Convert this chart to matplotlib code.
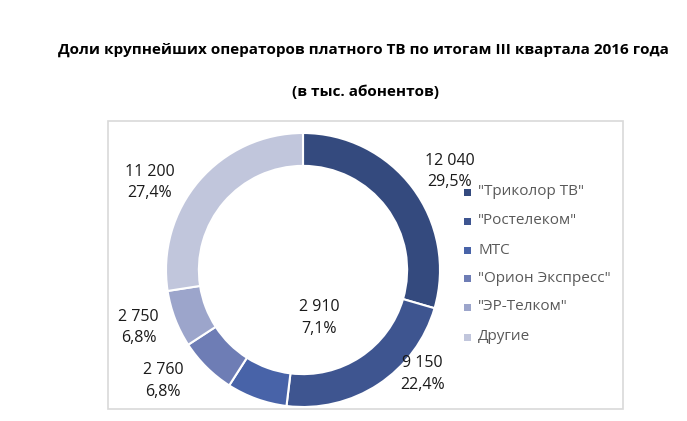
import matplotlib
matplotlib.use("Agg")
import matplotlib.pyplot as plt
from matplotlib.patches import Rectangle

plt.rcParams['font.family'] = ['Open Sans', 'DejaVu Sans']

categories = ['"Триколор ТВ"', '"Ростелеком"', 'МТС', '"Орион Экспресс"', '"ЭР-Телком"', 'Другие']
values = [12040, 9150, 2910, 2760, 2750, 11200]
value_labels = ['12 040', '9 150', '2 910', '2 760', '2 750', '11 200']
pct_labels = ['29,5%', '22,4%', '7,1%', '6,8%', '6,8%', '27,4%']
colors = ['#344A7E', '#3E5590', '#4863A8', '#6E7DB5', '#9CA5CB', '#C1C6DC']
# label positions relative to donut centre (in radii)
label_pos = [(1.07, 0.72), (0.87, -0.76), (0.12, -0.35), (-1.02, -0.81), (-1.20, -0.42), (-1.12, 0.64)]

W, H = 687, 421
fig = plt.figure(figsize=(W / 100, H / 100), dpi=100)

# chart area border
fig.patches.append(Rectangle((108 / W, 1 - 409 / H), (623 - 108) / W, (409 - 121) / H,
                             transform=fig.transFigure, fill=False, edgecolor='#D9D9D9', linewidth=1.2))

cx, cy, r = 303, 270, 137
ax = fig.add_axes([(cx - r) / W, (H - cy - r) / H, 2 * r / W, 2 * r / H])
wedges, _ = ax.pie(values, colors=colors, startangle=90, counterclock=False, radius=1,
                   wedgeprops=dict(width=0.24, edgecolor='white', linewidth=1.5))
ax.set_xlim(-1, 1)
ax.set_ylim(-1, 1)
ax.set_aspect('equal')
ax.axis('off')

for (lx, ly), v, p in zip(label_pos, value_labels, pct_labels):
    ax.text(lx, ly, f"{v}\n{p}", ha='center', va='center', fontsize=11.5, color='#1a1a1a',
            linespacing=1.45, clip_on=False)

fig.text(363 / W, 1 - 50 / H, 'Доли крупнейших операторов платного ТВ по итогам III квартала 2016 года',
         ha='center', va='center', fontsize=10.95, fontweight='bold', color='black')
fig.text(365 / W, 1 - 92 / H, '(в тыс. абонентов)', ha='center', va='center',
         fontsize=11, fontweight='bold', color='black')

leg_y = [192, 221, 250, 278, 307, 337]
for c, name, y in zip(colors, categories, leg_y):
    fig.patches.append(Rectangle((464 / W, 1 - (y + 3.5) / H), 7 / W, 7 / H,
                                 transform=fig.transFigure, facecolor=c, edgecolor='none'))
    fig.text(478 / W, 1 - y / H, name, ha='left', va='center', fontsize=11, color='#595959')

fig.savefig('out.png', dpi=100)
